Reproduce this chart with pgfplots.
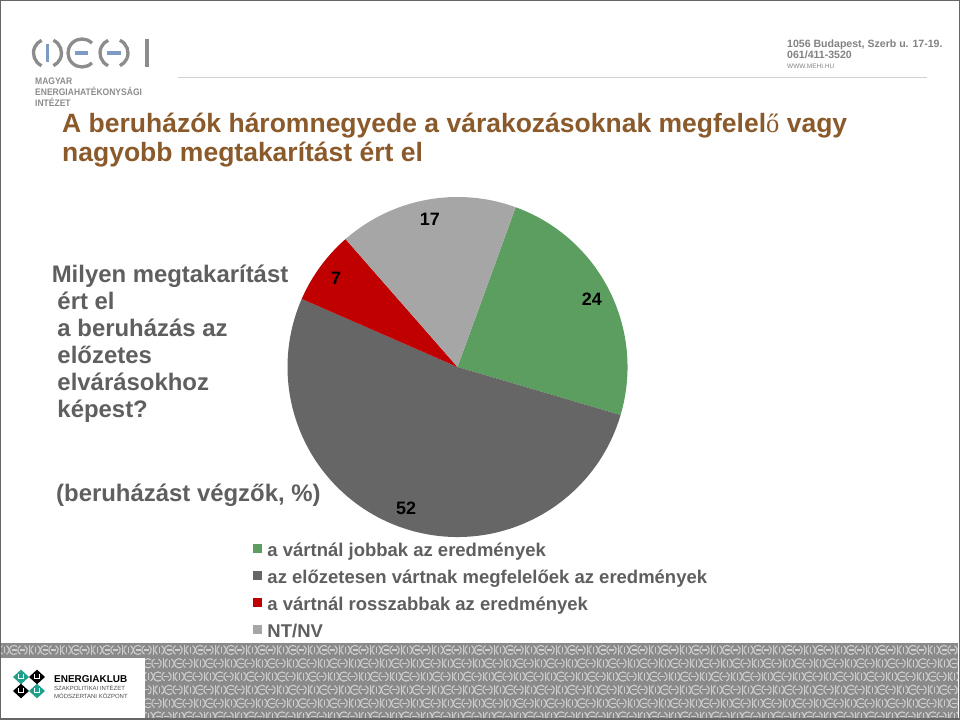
\documentclass[border=0pt]{standalone}
\usepackage{pgfplots}
\pgfplotsset{compat=1.18}
\usepackage{pgfplotstable}
\usepackage{fontspec}
\setmainfont{Liberation Sans}
\newfontfamily\serifo{Liberation Serif}
\definecolor{pgreen}{RGB}{92,158,95}
\definecolor{pdark}{RGB}{102,102,102}
\definecolor{pred}{RGB}{192,0,0}
\definecolor{plight}{RGB}{166,166,166}
\definecolor{titlebrown}{RGB}{139,90,43}
\definecolor{txtgray}{RGB}{95,95,95}
\definecolor{logogray}{RGB}{140,140,140}
\definecolor{hdrgray}{RGB}{130,130,130}
\definecolor{logoblue}{RGB}{125,155,195}
\definecolor{footbg}{RGB}{138,138,138}
\definecolor{footfg}{RGB}{205,205,205}
\definecolor{eteal}{RGB}{30,160,140}
\newcommand\fs[1]{\fontsize{#1}{#1}\selectfont}
\newcommand\pielabelfont{\bfseries\fontsize{18}{18}\selectfont}

\pgfplotstableread{
value colour
24 pgreen
52 pdark
7 pred
17 plight
}\piedata

\begin{document}
\begin{tikzpicture}[x=1bp,y=1bp]
\useasboundingbox (0,0) rectangle (960,720);
\fill[white] (0,0) rectangle (960,720);
\begin{scope}[yshift=720bp, y=-1bp]
  % ---------- footer band ----------
  \fill[footbg] (0,643) rectangle (958,719);
  \begin{scope}
    \clip (0,643) rectangle (958,719);
    \foreach \r in {0,...,5}{
      \foreach \c in {-1,...,31}{
        \pgfmathsetmacro\xx{\c*31 + mod(\r,3)*10}
        \pgfmathsetmacro\yy{650+13.3*\r}
        \begin{scope}[shift={(\xx,\yy)}, draw=footfg, line width=1.1bp]
          \draw (4.5,0) ++(115:4.8) arc[start angle=115,end angle=245,radius=4.8];
          \draw (4.5,0) ++(-65:4.8) arc[start angle=-65,end angle=65,radius=4.8];
          \draw (4.5,-3.3) -- (4.5,3.3);
          \draw (14,0) ++(50:4.6) arc[start angle=50,end angle=310,radius=4.6];
          \draw (11.5,0) -- (17,0);
          \draw (22.5,0) ++(115:4.8) arc[start angle=115,end angle=245,radius=4.8];
          \draw (22.5,0) ++(-65:4.8) arc[start angle=-65,end angle=65,radius=4.8];
          \draw (20,0) -- (25,0);
          \draw (29.5,-4.8) -- (29.5,4.8);
        \end{scope}
      }
    }
  \end{scope}
  \fill[white] (0,658) rectangle (145,720);
  % ENERGIAKLUB logo
  \foreach \cx/\cy/\col in {21/677/eteal, 37/677/black, 21/691/black, 37/691/eteal}{
    \fill[\col] (\cx-8,\cy) -- (\cx,\cy-7.3) -- (\cx+8,\cy) -- (\cx,\cy+7.3) -- cycle;
    \draw[white, line width=1.2bp] (\cx-2.5,\cy-2.5) -- (\cx-2.5,\cy+1.5) -- (\cx+2.5,\cy+1.5) -- (\cx+2.5,\cy-2.5);
  }
  \node[anchor=base west, inner sep=0pt, font=\bfseries\fs{10}] at (54,683) {ENERGIAKLUB};
  \node[anchor=base west, inner sep=0pt, font=\fs{6}, text=black!70] at (54,691) {SZAKPOLITIKAI INTÉZET};
  \node[anchor=base west, inner sep=0pt, font=\fs{6}, text=black!70] at (54,698.3) {MÓDSZERTANI KÖZPONT};

  % ---------- header ----------
  \begin{scope}[line width=3.3bp, logogray]
    \draw (47.5,53) ++(115:14) arc[start angle=115,end angle=245,radius=14];
    \draw (47.5,53) ++(-65:14) arc[start angle=-65,end angle=65,radius=14];
    \draw (82,53) ++(45:14) arc[start angle=45,end angle=315,radius=14];
    \draw (114,53) ++(115:14) arc[start angle=115,end angle=245,radius=14];
    \draw (114,53) ++(-65:14) arc[start angle=-65,end angle=65,radius=14];
    \draw (147,39) -- (147,67);
    \draw[logoblue] (47.5,44) -- (47.5,62);
    \draw[logoblue] (75,53) -- (88,53);
    \draw[logoblue] (107,53) -- (121,53);
  \end{scope}
  \node[anchor=base west, inner sep=0pt, font=\bfseries\fs{9.5}, text=logogray] at (35,85) {\scalebox{0.9}[1]{MAGYAR}};
  \node[anchor=base west, inner sep=0pt, font=\bfseries\fs{9.5}, text=logogray] at (35,96) {\scalebox{0.9}[1]{ENERGIAHATÉKONYSÁGI}};
  \node[anchor=base west, inner sep=0pt, font=\bfseries\fs{9.5}, text=logogray] at (35,106.5) {\scalebox{0.9}[1]{INTÉZET}};
  \draw[black!18, line width=1.4bp] (178,77.5) -- (927,77.5);
  \node[anchor=base west, inner sep=0pt, font=\bfseries\fs{10.6}, text=hdrgray] at (787,47.3) {1056 Budapest, Szerb u. 17-19.};
  \node[anchor=base west, inner sep=0pt, font=\bfseries\fs{10.6}, text=hdrgray] at (787,58.3) {061/411-3520};
  \node[anchor=base west, inner sep=0pt, font=\fs{6.5}, text=hdrgray] at (787,68.3) {WWW.MEHI.HU};

  % ---------- title ----------
  \node[anchor=base west, inner sep=0pt, font=\bfseries\fs{26.6}, text=titlebrown] at (62,132.5) {A beruházók háromnegyede a várakozásoknak megfelel{\serifo\mdseries ő} vagy};
  \node[anchor=base west, inner sep=0pt, font=\bfseries\fs{26.6}, text=titlebrown] at (62,161.7) {nagyobb megtakarítást ért el};

  % ---------- question ----------
  \begin{scope}[every node/.style={anchor=base west, inner sep=0pt, font=\bfseries\fs{24}, text=txtgray}]
    \node at (51.6,282.5) {Milyen megtakarítást};
    \node at (57.3,309.6) {ért el};
    \node at (57.3,336.7) {a beruházás az};
    \node at (57.3,363.8) {előzetes};
    \node at (57.3,390.9) {elvárásokhoz};
    \node at (57.3,418) {képest?};
    \node at (56,501.7) {(beruházást végzők, \%)};
  \end{scope}

  % frame
  \draw[black!60, line width=1.5bp] (0.75,0.75) rectangle (959.25,719.25);
\end{scope}

% ---------- pie chart ----------
\begin{axis}[
  at={(457.5bp,353bp)}, anchor=center,
  x=170bp, y=170bp,
  xmin=-1, xmax=1, ymin=-1, ymax=1,
  hide axis, clip=false,
  legend cell align=left,
  legend image code/.code={\path[#1] (0bp,-1.5bp) rectangle (9bp,7.5bp);},
  legend style={
    at={(axis description cs:-0.1015,-0.0148)}, anchor=north west,
    draw=none, fill=none, inner sep=0pt, outer sep=0pt,
    font=\bfseries\fs{18.55}, text=txtgray,
    row sep=9bp,
    nodes={inner sep=0pt, text height=14bp, text depth=4bp},
    /tikz/every odd column/.append style={column sep=5.5bp},
  },
]
\def\startang{70}
\pgfplotsforeachungrouped \i in {0,1,2,3}{%
  \pgfplotstablegetelem{\i}{value}\of\piedata
  \let\sliceval\pgfplotsretval
  \pgfplotstablegetelem{\i}{colour}\of\piedata
  \let\slicecol\pgfplotsretval
  \pgfmathsetmacro\endang{\startang-3.6*\sliceval}
  \pgfmathsetmacro\midang{(\startang+\endang)/2}
  \edef\slice{%
    \noexpand\fill[\slicecol] (axis cs:0,0) -- (axis cs:{cos(\startang)},{sin(\startang)})
      arc[start angle=\startang, end angle=\endang, radius=170bp] -- cycle;
    \noexpand\node[font=\noexpand\pielabelfont, inner sep=0pt] at (axis cs:{0.885*cos(\midang)},{0.885*sin(\midang)}) {\sliceval};
  }%
  \slice
  \let\startang\endang
}
\addlegendimage{fill=pgreen, draw=none}
\addlegendentry{a vártnál jobbak az eredmények}
\addlegendimage{fill=pdark, draw=none}
\addlegendentry{az előzetesen vártnak megfelelőek az eredmények}
\addlegendimage{fill=pred, draw=none}
\addlegendentry{a vártnál rosszabbak az eredmények}
\addlegendimage{fill=plight, draw=none}
\addlegendentry{NT/NV}
\end{axis}
\end{tikzpicture}
\end{document}
